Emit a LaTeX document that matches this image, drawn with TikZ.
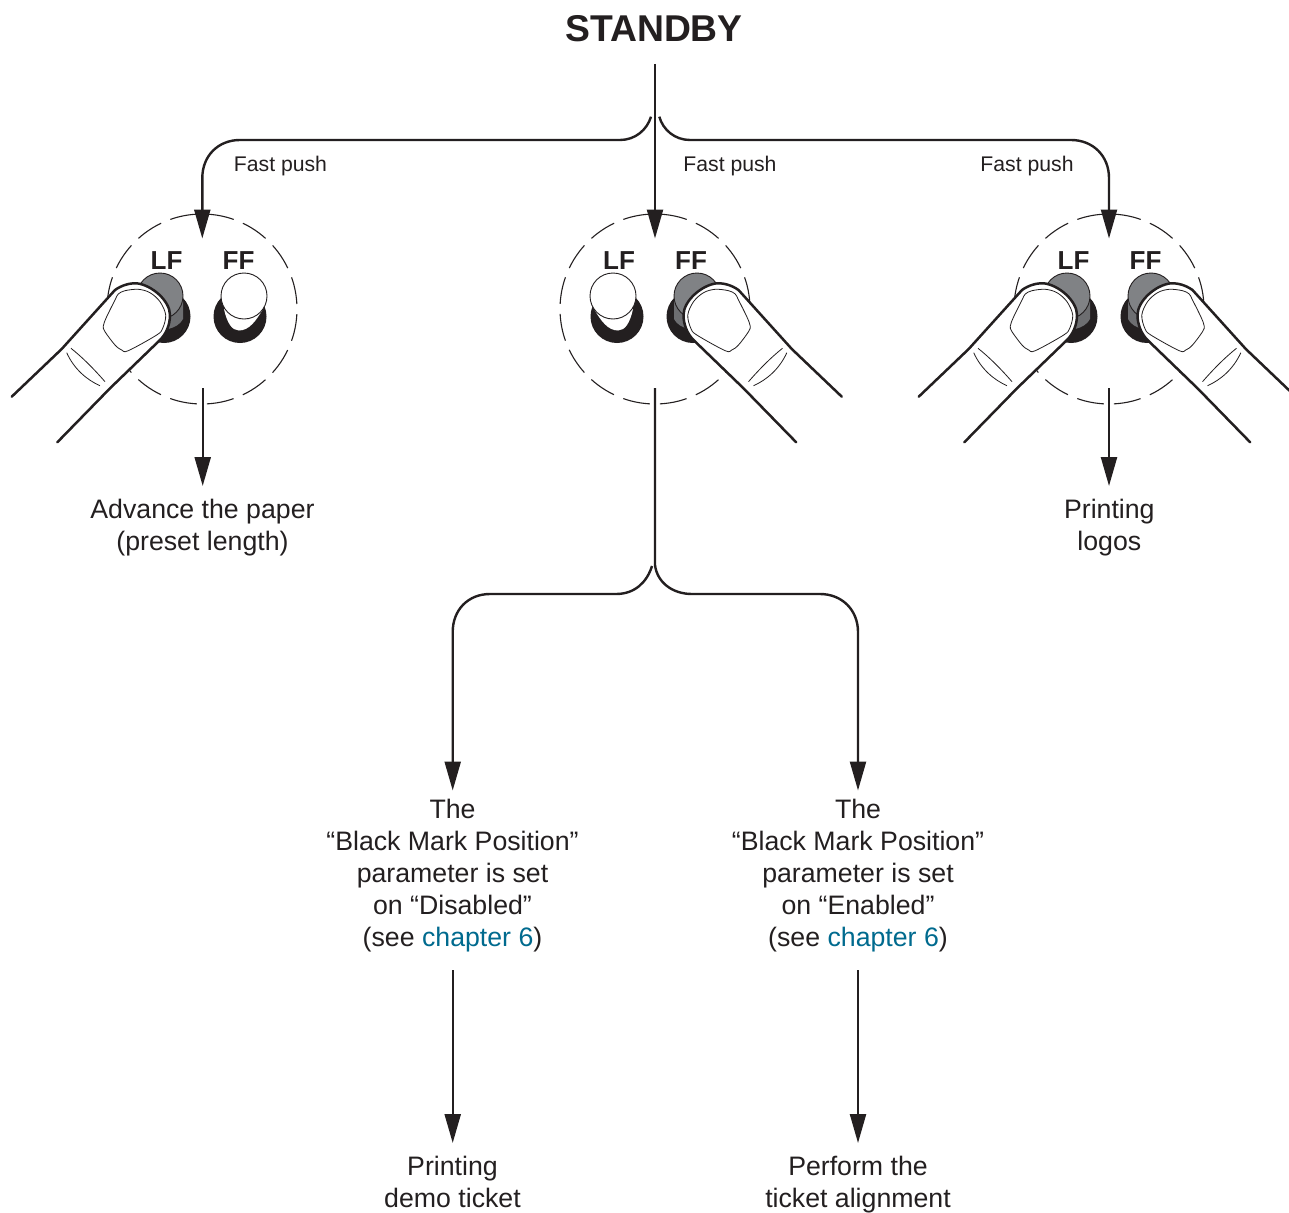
\documentclass[tikz,border=0pt]{standalone}
\usepackage{fontspec}
\setmainfont{Liberation Sans}
\usetikzlibrary{arrows.meta}
\definecolor{ink}{HTML}{231F20}
\definecolor{capgray}{HTML}{808285}
\definecolor{stemgray}{HTML}{6D6E71}
\definecolor{linkblue}{HTML}{006A8E}
\tikzset{
  conn/.style={draw=ink,line width=2.4pt},
  arr/.style={conn,-{Triangle[length=29pt,width=16pt]}},
  body/.style={font=\fontsize{26.7}{32}\selectfont,text=ink,align=center,inner sep=0pt,outer sep=0pt,anchor=north},
  small/.style={font=\fontsize{21.2}{25}\selectfont,text=ink,inner sep=0pt},
  keylabel/.style={font=\fontsize{26}{30}\bfseries\selectfont,text=ink,inner sep=0pt},
  panel/.style={circle,draw=ink,line width=1.1pt,minimum size=190pt,inner sep=0pt,dash pattern=on 27.3pt off 10pt,dash phase=32.3pt},
  fingerline/.style={draw=ink,line width=2.5pt,line join=round,line cap=round},
  thin/.style={draw=ink,line width=0.8pt,line join=round}
}
\newcommand{\btnfree}[1]{% #1 = +1 or -1: side
  \begin{scope}[xscale=#1]
    \fill[ink] (38,7.5) circle (26.5);
    \fill[white] (22,0) .. controls (25,14) and (30,21.5) .. (37,21.5) .. controls (47,21.5) and (54,12) .. (61,0) -- cycle;
    \filldraw[fill=white,draw=ink,line width=0.9pt] (42,-13) circle (23);
  \end{scope}}
\newcommand{\btnpressed}[1]{%
  \begin{scope}[xscale=#1]
    \fill[ink] (38,7.5) circle (26.5);
    \fill[stemgray] (19,-8) -- (19,10) .. controls (24,20) and (42,24) .. (50,17) .. controls (56,10) and (60,0) .. (62,-6) -- cycle;
    \filldraw[fill=capgray,draw=ink,line width=0.9pt] (42,-13) circle (23);
  \end{scope}}
\newcommand{\finger}{%
  \fill[white] (-190.3,87.7) -- (-140.3,40) -- (-87,-19) .. controls (-80,-24) and (-72,-26) .. (-65.3,-25.7) .. controls (-50,-24) and (-32,-8) .. (-32,6) .. controls (-32,16) and (-36,25) .. (-42,31) -- (-92,79.3) -- (-144.7,133.3) -- cycle;
  \path[fingerline] (-190.3,87.7) -- (-140.3,40) -- (-87,-19) .. controls (-80,-24) and (-72,-26) .. (-65.3,-25.7) .. controls (-50,-24) and (-32,-8) .. (-32,6) .. controls (-32,16) and (-36,25) .. (-42,31) -- (-92,79.3) -- (-144.7,133.3);
  \path[thin] plot[smooth cycle,tension=0.55] coordinates {(-83.7,-15) (-77,-18.3) (-63.7,-19.7) (-52,-16.3) (-42,-7.3) (-36.3,6) (-39.3,19.3) (-45.3,26) (-73.7,41.7) (-80.3,41) (-87,36) (-97,22.7) (-98.7,17) (-95.3,7.7) (-87,-9)};
  \path[thin] (-131,39.3) .. controls (-120,48) and (-108,60) .. (-97,72.7);
  \path[thin] (-135.3,43.7) .. controls (-128,60) and (-115,71) .. (-102,76.7);
}
\begin{document}
\begin{tikzpicture}[x=1pt,y=-1pt]
\useasboundingbox (0,0) rectangle (1289,1212);

% dashed panels
\node[panel] (p1) at (202,309) {};
\node[panel] (p2) at (655,309) {};
\node[panel] (p3) at (1109,309) {};

% panel 1: LF pressed
\begin{scope}[shift={(202,309)}]
  \btnpressed{-1}\btnfree{1}\finger
\end{scope}
% panel 2: FF pressed
\begin{scope}[shift={(655,309)}]
  \btnfree{-1}\btnpressed{1}
  \begin{scope}[xshift=-3.5pt,xscale=-1]\finger\end{scope}
\end{scope}
% panel 3: both pressed
\begin{scope}[shift={(1109,309)}]
  \btnpressed{-1}\btnpressed{1}\finger
  \begin{scope}[xshift=-3.5pt,xscale=-1]\finger\end{scope}
\end{scope}

% key labels
\node[keylabel] (lf1) at (166.5,261) {LF};
\node[keylabel] (ff1) at (238.5,261) {FF};
\node[keylabel] (lf2) at (619,261) {LF};
\node[keylabel] (ff2) at (691,261) {FF};
\node[keylabel] (lf3) at (1073.5,261) {LF};
\node[keylabel] (ff3) at (1145.5,261) {FF};

% texts
\node[inner sep=0pt,text=ink,font=\fontsize{37.3}{40}\bfseries\selectfont] (standby) at (654,29) {STANDBY};
\node[small] (fp1) at (280.5,166) {Fast push};
\node[small] (fp2) at (730,166) {Fast push};
\node[small] (fp3) at (1027,166) {Fast push};
\node[body] (adv) at (202.5,499) {Advance the paper\\(preset length)};
\node[body] (logos) at (1109.3,499) {Printing\\logos};
\node[body] (bmd) at (452.5,799) {The\\“Black Mark Position”\\parameter is set\\on “Disabled”\\(see \textcolor{linkblue}{chapter 6})};
\node[body] (bme) at (858,799) {The\\“Black Mark Position”\\parameter is set\\on “Enabled”\\(see \textcolor{linkblue}{chapter 6})};
\node[body] (demo) at (452.5,1156) {Printing\\demo ticket};
\node[body] (align) at (858,1156) {Perform the\\ticket alignment};

% junction coordinates
\coordinate (top) at (655,64);
\coordinate (tl) at (651,116.7);
\coordinate (tr) at (659.3,116.7);
\coordinate (ml) at (652,566);
\coordinate (p1in) at (202.3,238.5);
\coordinate (p2in) at (655,238.5);
\coordinate (p3in) at (1109,238.5);
\coordinate (p1out) at (202.7,388);
\coordinate (p2out) at (655,388);
\coordinate (p3out) at (1109,388);
\coordinate (advin) at (202.7,486);
\coordinate (logosin) at (1109,486);
\coordinate (bmdin) at (452.7,790.5);
\coordinate (bmein) at (858,790.5);
\coordinate (bmdout) at (452.7,970);
\coordinate (bmeout) at (858,970);
\coordinate (demoin) at (452.7,1143);
\coordinate (alignin) at (858,1143);

% connectors
\draw[arr] (top) -- (p2in);
\draw[arr] (tl) .. controls (647,130) and (635,140) .. (620,140) -- (240,140) .. controls (218,140) and (202.3,156) .. (p1in |- 0,178) -- (p1in);
\draw[arr] (tr) .. controls (663,130) and (675,140) .. (690,140) -- (1071,140) .. controls (1093,140) and (1109,156) .. (p3in |- 0,178) -- (p3in);
\draw[arr] (p1out) -- (advin);
\draw[arr] (p3out) -- (logosin);
\draw[arr] (ml) .. controls (647,582) and (635,594) .. (616,594) -- (490,594) .. controls (468,594) and (452.7,610) .. (bmdin |- 0,632) -- (bmdin);
\draw[arr] (p2out) -- (655,565) .. controls (657,582) and (672,594) .. (692,594) -- (820,594) .. controls (842,594) and (858,610) .. (bmein |- 0,632) -- (bmein);
\draw[arr] (bmdout) -- (demoin);
\draw[arr] (bmeout) -- (alignin);
\end{tikzpicture}
\end{document}
